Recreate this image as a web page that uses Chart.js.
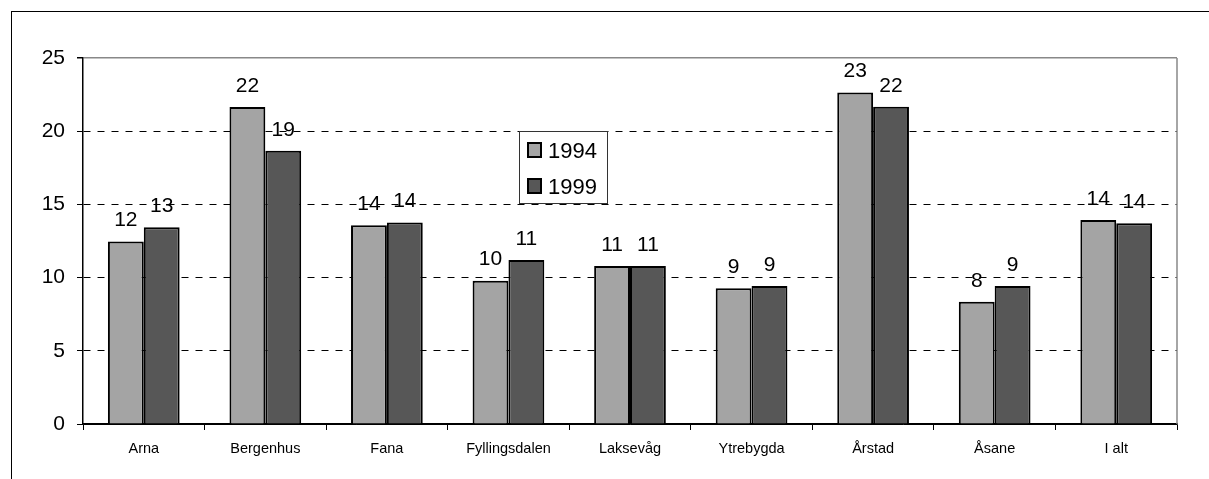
<!DOCTYPE html>
<html>
<head>
<meta charset="utf-8">
<script src="https://cdn.jsdelivr.net/npm/chart.js@4/dist/chart.umd.min.js"></script>
<style>
  html, body { margin: 0; padding: 0; background: #fff; overflow: hidden; }
  #frame { position: absolute; left: 11px; top: 11px; width: 1400px; height: 600px;
           border-top: 1px solid #000; border-left: 1px solid #000; }
  #c { position: absolute; left: 0; top: 0; }
</style>
</head>
<body>
<div id="frame"></div>
<canvas id="c" width="1209" height="479"></canvas>
<script>
  // ===== Dados =====
  const categories = ['Arna', 'Bergenhus', 'Fana', 'Fyllingsdalen', 'Laksevåg', 'Ytrebygda', 'Årstad', 'Åsane', 'I alt'];
  const values1994 = [12.46, 21.65, 13.58, 9.79, 10.79, 9.27, 22.65, 8.35, 13.94];
  const values1999 = [13.44, 18.66, 13.76, 11.2, 10.79, 9.43, 21.67, 9.43, 13.71];
  const yTicks     = [0, 5, 10, 15, 20, 25];

  const FONT = '"Liberation Sans", Arial, Helvetica, sans-serif';

  // rótulos de valor acima das barras
  const valueLabels = {
    id: 'valueLabels',
    afterDatasetsDraw(chart) {
      const ctx = chart.ctx;
      ctx.save();
      ctx.font = '21px ' + FONT;
      ctx.fillStyle = '#000';
      ctx.textAlign = 'center';
      ctx.textBaseline = 'middle';
      chart.data.datasets.forEach((ds, di) => {
        chart.getDatasetMeta(di).data.forEach((bar, i) => {
          ctx.fillText(String(Math.round(ds.data[i])), bar.x, bar.y - 21);
        });
      });
      ctx.restore();
    }
  };

  // borda direita cinza + legenda dentro do gráfico
  const frameAndLegend = {
    id: 'frameAndLegend',
    afterDatasetsDraw(chart) {
      const ctx = chart.ctx, a = chart.chartArea;
      ctx.save();
      ctx.strokeStyle = '#888';
      ctx.lineWidth = 1.5;
      ctx.beginPath();
      ctx.moveTo(a.right, a.top);
      ctx.lineTo(a.right, a.bottom);
      ctx.stroke();

      // legenda
      const lx = 519, ly = 131, lw = 88, lh = 72;
      ctx.fillStyle = '#fff';
      ctx.fillRect(lx, ly, lw, lh);
      ctx.strokeStyle = '#333';
      ctx.lineWidth = 1;
      ctx.strokeRect(lx + 0.5, ly + 0.5, lw, lh);
      ctx.font = '22px ' + FONT;
      ctx.textBaseline = 'middle';
      ctx.textAlign = 'left';
      chart.data.datasets.forEach((ds, i) => {
        const cy = 150 + i * 36;
        ctx.fillStyle = ds.backgroundColor;
        ctx.fillRect(528, cy - 7, 13, 14);
        ctx.strokeStyle = '#000';
        ctx.lineWidth = 2;
        ctx.strokeRect(528, cy - 7, 13, 14);
        ctx.fillStyle = '#000';
        ctx.fillText(ds.label, 548, cy + 2);
      });
      ctx.restore();
    }
  };

  new Chart(document.getElementById('c'), {
    type: 'bar',
    data: {
      labels: categories,
      datasets: [
        { label: '1994', data: values1994, backgroundColor: '#a4a4a4', borderColor: '#000', borderWidth: 2 },
        { label: '1999', data: values1999, backgroundColor: '#575757', borderColor: '#000', borderWidth: 2 }
      ]
    },
    options: {
      responsive: false,
      animation: false,
      events: [],
      layout: { padding: { top: 58, right: 32, left: 0, bottom: 0 } },
      datasets: { bar: { categoryPercentage: 0.59, barPercentage: 1 } },
      plugins: { legend: { display: false }, tooltip: { enabled: false } },
      scales: {
        x: {
          afterFit: s => { s.height = 55; },
          grid: { offset: true, drawOnChartArea: false, drawTicks: true, tickLength: 6, color: '#000' },
          border: { color: '#000', width: 1.5 },
          ticks: { color: '#000', font: { family: FONT, size: 14.5 }, padding: 10, maxRotation: 0 }
        },
        y: {
          min: 0, max: 25,
          afterFit: s => { s.width = 83; },
          afterBuildTicks: s => { s.ticks = yTicks.map(v => ({ value: v })); },
          grid: {
            color: c => (c.tick && c.tick.value === 25) ? '#888' : '#000',
            lineWidth: c => (c.tick && c.tick.value === 25) ? 1.5 : 1,
            tickColor: '#000',
            tickLength: 6
          },
          border: {
            color: '#000', width: 1.5,
            dash: c => (c.tick && c.tick.value > 0 && c.tick.value < 25) ? [7, 7] : []
          },
          ticks: { color: '#000', font: { family: FONT, size: 21 }, padding: 12 }
        }
      }
    },
    plugins: [valueLabels, frameAndLegend]
  });
</script>
</body>
</html>
